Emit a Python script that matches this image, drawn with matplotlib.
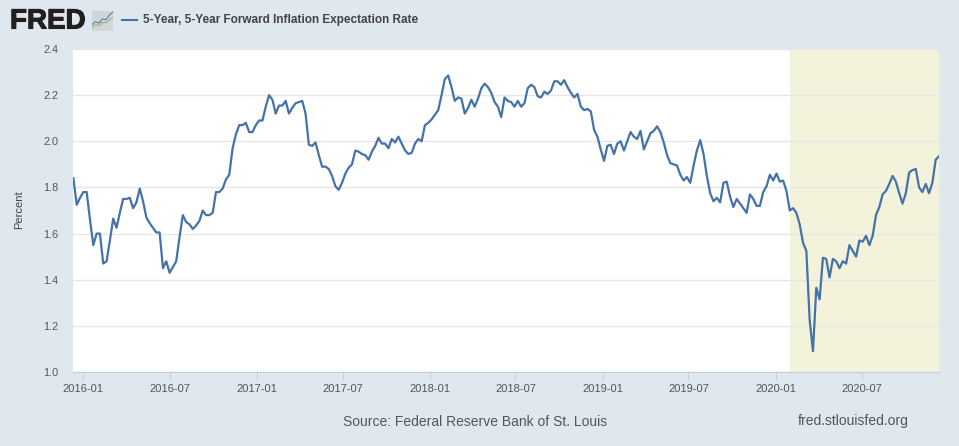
import matplotlib
matplotlib.use("Agg")
import matplotlib.pyplot as plt
import matplotlib.dates as mdates
import matplotlib.patheffects as pe
import numpy as np
import pandas as pd

plt.rcParams['font.family'] = ['Liberation Sans', 'DejaVu Sans']

# weekly readings
rate_a = [1.84, 1.725, 1.755, 1.78, 1.78, 1.66, 1.55, 1.60, 1.60, 1.47, 1.48, 1.57, 1.665, 1.625, 1.69,
          1.75, 1.75, 1.755, 1.71, 1.735, 1.795, 1.74, 1.67, 1.645, 1.625, 1.605, 1.605, 1.45, 1.48, 1.43,
          1.455, 1.48, 1.585, 1.68, 1.65, 1.64, 1.62, 1.635, 1.655, 1.70, 1.68, 1.68, 1.69, 1.78]
rate_b = [1.78, 1.795, 1.835, 1.855, 1.97, 2.03, 2.07, 2.07, 2.08, 2.04, 2.04, 2.07, 2.09, 2.09, 2.15,
          2.20, 2.18, 2.12, 2.155, 2.155, 2.175, 2.12, 2.145, 2.165, 2.17, 2.175, 2.12, 1.985, 1.98, 1.995,
          1.94, 1.89, 1.89, 1.88, 1.85, 1.805, 1.79, 1.82, 1.86, 1.885, 1.90, 1.96, 1.955]
rate_c = [1.945, 1.94, 1.92, 1.955, 1.98, 2.015, 1.99, 1.99, 1.97, 2.01, 1.995, 2.02, 1.99, 1.96, 1.945,
          1.95, 1.99, 2.01, 2.00, 2.07, 2.08, 2.095, 2.115, 2.135, 2.20, 2.27, 2.285, 2.235, 2.175, 2.19,
          2.185, 2.12, 2.145, 2.18, 2.15, 2.185, 2.23, 2.25, 2.235, 2.21, 2.17, 2.15, 2.105, 2.19]
rate_d = [2.175, 2.17, 2.15, 2.175, 2.15, 2.165, 2.23, 2.245, 2.235, 2.195, 2.19, 2.215, 2.205, 2.22, 2.26,
          2.26, 2.245, 2.265, 2.235, 2.21, 2.19, 2.205, 2.15, 2.135, 2.14, 2.13, 2.05, 2.02, 1.965, 1.915,
          1.98, 1.985, 1.945, 1.99, 2.00, 1.96, 2.00, 2.04, 2.02, 2.01, 2.045, 1.965, 2.00]
rate_e = [2.035, 2.045, 2.065, 2.04, 1.995, 1.94, 1.905, 1.90, 1.895, 1.855, 1.83, 1.845, 1.82, 1.895, 1.96,
          2.005, 1.945, 1.85, 1.775, 1.74, 1.755, 1.735, 1.82, 1.825, 1.76, 1.715, 1.75, 1.73, 1.71, 1.69,
          1.77, 1.75, 1.72, 1.72, 1.78, 1.805, 1.855, 1.83, 1.86, 1.825, 1.83, 1.785]
rate_f = [1.70, 1.71, 1.69, 1.64, 1.56, 1.525, 1.225, 1.09, 1.365, 1.315, 1.495, 1.49, 1.41, 1.49, 1.48,
          1.45, 1.48, 1.47, 1.55, 1.525, 1.50, 1.57, 1.565, 1.59, 1.55, 1.59, 1.68, 1.715, 1.77, 1.785,
          1.815, 1.85, 1.825, 1.775, 1.73, 1.775, 1.865, 1.875, 1.88, 1.80, 1.78, 1.815, 1.775, 1.82, 1.92, 1.935]
rate = rate_a + rate_b + rate_c + rate_d + rate_e + rate_f

dates = pd.date_range("2015-12-11", periods=len(rate), freq="7D")
tick_dates = pd.to_datetime(["2016-01-01", "2016-07-01", "2017-01-01", "2017-07-01", "2018-01-01",
                             "2018-07-01", "2019-01-01", "2019-07-01", "2020-01-01", "2020-07-01"])
y_ticks = [1.0, 1.2, 1.4, 1.6, 1.8, 2.0, 2.2, 2.4]
recession_start = pd.Timestamp("2020-02-01")

series_name = "5-Year, 5-Year Forward Inflation Expectation Rate"
source_text = "Source: Federal Reserve Bank of St. Louis"
site_text = "fred.stlouisfed.org"

# icon in the logo
icon_blue = [0.30, 0.45, 0.38, 0.60, 0.55, 0.80, 0.95]
icon_green = [0.15, 0.30, 0.25, 0.42, 0.40, 0.55, 0.68]

W, H = 959, 446
BG = "#DFE7EF"
LINE = "#4572A7"
AXIS = "#C0D0E0"

fig = plt.figure(figsize=(W / 100, H / 100), dpi=100, facecolor=BG)
ax = fig.add_axes([73.4 / W, 1 - 372 / H, (939 - 73.4) / W, (372 - 49) / H])
ax.set_facecolor("white")

ax.axvspan(recession_start, dates[-1], color="#F3F3DB", lw=0, zorder=1)
ax.plot(dates, rate, color=LINE, lw=1.6, zorder=3, solid_joinstyle="round")

ax.set_xlim(dates[0], dates[-1])
ax.set_ylim(1.0, 2.4)
ax.set_yticks(y_ticks)
ax.set_yticklabels([f"{v:.1f}" for v in y_ticks])
ax.set_xticks(tick_dates)
ax.xaxis.set_major_formatter(mdates.DateFormatter("%Y-%m"))
ax.grid(axis="y", color="#E6E6E6", lw=1, zorder=2)
ax.set_axisbelow(False)
for s in ["top", "right", "left"]:
    ax.spines[s].set_visible(False)
ax.spines["bottom"].set_color(AXIS)
ax.spines["bottom"].set_linewidth(0.8)
ax.tick_params(axis="x", color=AXIS, length=5.8, width=0.7, labelsize=8, labelcolor="#555555", pad=3)
ax.tick_params(axis="y", length=0, labelsize=7.8, labelcolor="#555555", pad=11)

fig.text(19.5 / W, 1 - 210 / H, "Percent", rotation=90, ha="center", va="center", fontsize=8, color="#444444")

# header
logo = fig.text(10 / W, 1 - 21.5 / H, "FRED", ha="left", va="center", fontsize=20, fontweight="bold", color="#231F20")
logo.set_path_effects([pe.withStroke(linewidth=0.8, foreground="#231F20")])
fig.add_artist(plt.Line2D([122 / W, 137 / W], [1 - 19.5 / H, 1 - 19.5 / H], color=LINE, lw=1.5))
fig.text(143 / W, 1 - 19.5 / H, series_name, ha="left", va="center", fontsize=8.5, fontweight="bold", color="#444444")

icon = fig.add_axes([92 / W, 1 - 30.5 / H, 21 / W, 19.5 / H])
icon.set_facecolor("#D3D6D6")
icon.plot(np.arange(len(icon_blue)), icon_blue, color=LINE, lw=0.7)
icon.plot(np.arange(len(icon_green)), icon_green, color="#8DB06A", lw=0.7)
icon.set_xlim(0, len(icon_blue) - 1)
icon.set_ylim(0, 1)
icon.set_xticks([])
icon.set_yticks([])
for s in icon.spines.values():
    s.set_visible(False)

# footer
fig.text(343 / W, 1 - 421.5 / H, source_text, ha="left", va="center", fontsize=10, color="#555555")
fig.text(798 / W, 1 - 421.5 / H, site_text, ha="left", va="center", fontsize=10, color="#555555")

fig.savefig("out.png", dpi=100, facecolor=BG)
